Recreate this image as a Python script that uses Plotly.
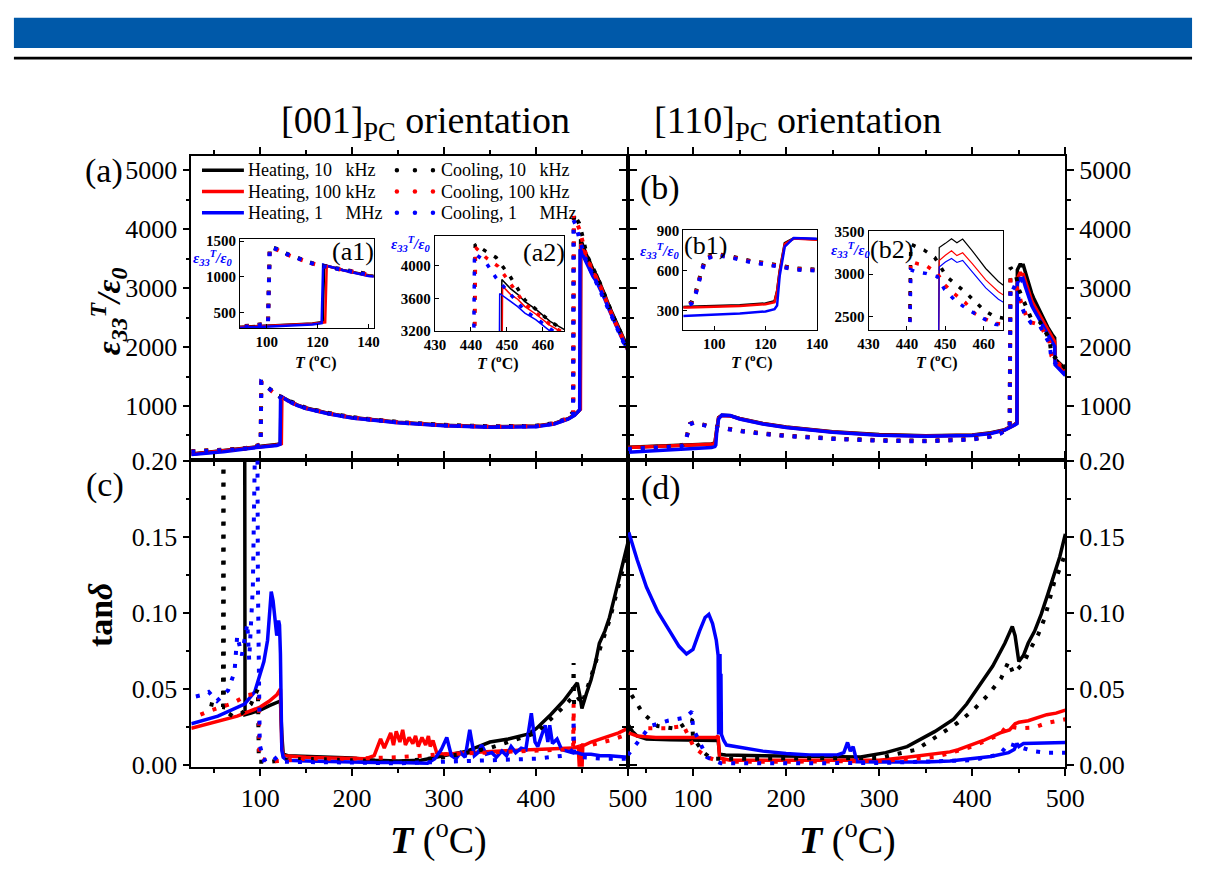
import plotly.graph_objects as go

W, H = 1214, 870
FONT = "Liberation Serif"
BLACK, RED, BLUE = "#000000", "#FF0000", "#0000FF"

# ---------------- DATA (T in degC) ----------------
# panel (a): eps33/eps0, [001]
a_heat_10k = [(25,185),(60,240),(90,300),(100,315),(110,330),(118,345),(122,365),(122.6,1160),(125,1140),(130,1095),(140,1020),(150,965),(175,875),(200,805),(250,725),(300,675),(350,650),(400,660),(420,705),(435,785),(442,850),(446,905),(448.2,950),(448.6,3830),(451,3720),(453,3650),(455,3560),(458,3470),(462,3320),(466,3220),(470,3080),(475,2880),(480,2680),(485,2500),(490,2330),(495,2160),(500,2000)]
a_heat_100k = [(25,180),(60,235),(90,295),(100,310),(110,325),(118,340),(123,362),(123.6,1150),(126,1130),(130,1090),(140,1015),(150,960),(175,870),(200,800),(250,720),(300,670),(350,645),(400,655),(420,700),(435,780),(442,845),(446,900),(448.4,945),(448.8,3750),(451,3650),(453,3590),(455,3500),(458,3410),(462,3270),(466,3170),(470,3040),(475,2850),(480,2650),(485,2470),(490,2300),(495,2130),(500,1975)]
a_heat_1M = [(25,175),(60,225),(90,285),(100,300),(110,315),(118,330),(121.6,350),(122.2,1170),(125,1140),(130,1090),(140,1010),(150,955),(175,865),(200,795),(250,715),(300,665),(350,640),(400,650),(420,695),(435,775),(442,840),(446,895),(447.6,935),(448,3660),(451,3560),(453,3500),(455,3420),(458,3340),(462,3200),(466,3110),(470,2990),(475,2810),(480,2620),(485,2440),(490,2270),(495,2100),(500,1945)]
a_cool_10k = [(25,235),(50,250),(80,275),(95,320),(100.5,350),(101.2,1420),(104,1390),(108,1320),(113,1250),(117,1200),(121,1160),(125,1130),(130,1095),(140,1025),(150,970),(175,880),(200,810),(250,730),(300,680),(350,655),(400,665),(420,710),(435,800),(440.5,900),(441.2,4260),(444,4180),(447,4100),(451,3860),(455,3580),(458,3470),(462,3320),(466,3210),(470,3070),(475,2870),(480,2670),(485,2490),(490,2320),(495,2150),(500,1990)]
a_cool_100k = [(25,230),(50,245),(80,270),(95,315),(100.5,345),(101.2,1400),(104,1380),(108,1310),(113,1240),(117,1195),(121,1155),(125,1125),(130,1090),(140,1020),(150,965),(175,875),(200,805),(250,725),(300,675),(350,650),(400,660),(420,705),(435,795),(440.6,880),(441.3,4220),(444.4,4090),(447.6,3990),(451,3780),(455,3530),(458,3430),(462,3280),(466,3170),(470,3040),(475,2840),(480,2640),(485,2460),(490,2290),(495,2120),(500,1965)]
a_cool_1M = [(25,225),(50,240),(80,265),(95,310),(100.5,340),(101.2,1410),(104,1385),(108,1315),(113,1245),(117,1195),(121,1155),(125,1125),(130,1085),(140,1015),(150,960),(175,870),(200,800),(250,720),(300,670),(350,645),(400,655),(420,700),(435,790),(440.4,870),(441,4150),(444,4050),(447,3850),(451,3650),(455,3450),(458,3360),(462,3220),(466,3100),(470,2980),(475,2790),(480,2600),(485,2420),(490,2250),(495,2090),(500,1935)]

# panel (b): eps33/eps0, [110]
b_heat_10k = [(30,300),(60,318),(90,330),(110,342),(120,355),(123.5,372),(124.5,450),(125.5,600),(127.5,806),(131,842),(140,835),(150,790),(175,705),(200,645),(250,565),(300,515),(350,495),(400,510),(420,545),(435,600),(445,680),(448,720),(448.4,3310),(450,3360),(451.6,3413),(453,3367),(454.5,3410),(457,3273),(460.5,3065),(463.8,2913),(466,2830),(471,2660),(476,2490),(481,2340),(486,2210),(488.5,2156),(489,1800),(494,1720),(500,1630)]
b_heat_100k = [(30,295),(60,313),(90,325),(110,337),(120,350),(123.5,365),(124.5,445),(125.5,590),(127.5,800),(131,840),(140,832),(150,785),(175,700),(200,640),(250,560),(300,510),(350,490),(400,505),(420,540),(435,595),(445,675),(448,715),(448.4,3159),(450,3220),(451.6,3273),(453,3216),(454.5,3250),(457,3121),(460.5,2932),(463.8,2792),(466,2720),(471,2580),(476,2420),(481,2270),(486,2140),(488.5,2090),(489,1750),(494,1670),(500,1580)]
b_heat_1M = [(30,215),(60,240),(90,262),(110,280),(120,295),(123.5,312),(124.5,340),(125.5,560),(127.5,780),(131,845),(140,838),(150,780),(175,695),(200,635),(250,555),(300,505),(350,485),(400,500),(420,535),(435,590),(445,665),(448,700),(448.4,3083),(450,3140),(451.6,3182),(453,3136),(454.5,3160),(457,3026),(460.5,2837),(463.8,2705),(466,2640),(471,2500),(476,2350),(481,2200),(486,2070),(488.5,2010),(489,1700),(494,1610),(500,1518)]
b_cool_10k = [(30,280),(60,300),(88,330),(91.2,365),(92.8,437),(94,531),(95.3,616),(96.8,700),(101,724),(105.5,712),(110,688),(115,669),(119,659),(123.2,645),(127.2,633),(132.3,616),(136.7,611),(150,585),(175,535),(200,500),(250,450),(300,420),(350,410),(400,440),(420,490),(430,540),(438,620),(440.2,680),(441,3350),(444.5,3280),(447.2,3197),(450.3,2970),(452.8,2875),(455.4,2780),(457.9,2667),(460.2,2572),(462.8,2500),(467,2470),(473,2420),(478,2280),(483,2125),(485,1880),(492,1780),(500,1640)]
b_cool_100k = [(30,275),(60,295),(88,325),(91.2,360),(92.8,430),(94,525),(95.3,612),(96.8,695),(101,720),(105.5,708),(110,684),(115,665),(119,655),(123.2,641),(127.2,629),(132.3,612),(136.7,607),(150,580),(175,530),(200,495),(250,445),(300,415),(350,405),(400,435),(420,485),(430,535),(438,615),(440.2,670),(441,3150),(442.8,3121),(444.9,3102),(447.9,3008),(449.8,2875),(452.3,2769),(455.1,2667),(457.7,2534),(460.2,2477),(463,2420),(468,2400),(473,2370),(478,2230),(483,2080),(485,1850),(492,1730),(500,1600)]
b_cool_1M = [(30,270),(60,290),(88,320),(91.2,355),(92.8,425),(94,520),(95.3,605),(96.8,690),(101,715),(105.5,703),(110,680),(115,660),(119,650),(123.2,637),(127.2,625),(132.3,608),(136.7,603),(150,575),(175,525),(200,490),(250,440),(300,410),(350,400),(400,430),(420,480),(430,530),(438,610),(440.2,665),(441,3050),(442.3,3026),(444.9,3008),(447.9,2970),(449.8,2818),(452.6,2686),(455.6,2591),(457.7,2534),(460.2,2470),(463,2410),(468,2380),(473,2350),(478,2200),(483,2060),(485,1800),(492,1680),(500,1540)]

# panel (c): tan(delta), [001]
c_heat_10k = [(83,0.30),(83.5,0.033),(90,0.034),(100,0.036),(110,0.039),(118,0.041),(122,0.042),(123.5,0.020),(125,0.007),(130,0.006),(150,0.0055),(175,0.005),(200,0.0045),(225,0.003),(250,0.0025),(275,0.003),(300,0.006),(325,0.009),(350,0.015),(370,0.017),(390,0.020),(400,0.0236),(416,0.033),(430,0.042),(440,0.050),(445,0.054),(448,0.045),(450,0.037),(455,0.047),(460,0.056),(465,0.068),(469,0.080),(475,0.088),(480,0.097),(487,0.114),(493,0.128),(500,0.146)]
c_heat_100k = [(25,0.024),(50,0.028),(75,0.032),(100,0.038),(110,0.042),(118,0.046),(122,0.050),(122.5,0.035),(123.5,0.012),(125,0.006),(135,0.0055),(150,0.005),(175,0.0045),(200,0.004),(215,0.004),(224,0.006),(228,0.013),(231,0.017),(235,0.011),(238,0.015),(242,0.021),(245,0.013),(248,0.022),(252,0.015),(255,0.023),(258,0.013),(262,0.018),(266,0.014),(269,0.019),(272,0.012),(276,0.018),(280,0.013),(283,0.019),(285,0.012),(288,0.016),(292,0.008),(300,0.007),(325,0.008),(350,0.009),(375,0.0095),(400,0.010),(420,0.0105),(440,0.011),(446,0.012),(448,-0.01),(449,0.012),(450,-0.005),(451,0.013),(453,0.013),(460,0.015),(470,0.017),(480,0.019),(490,0.021),(500,0.024)]
c_heat_1M = [(25,0.027),(54,0.032),(83,0.040),(94,0.048),(100,0.060),(104,0.068),(108,0.082),(110,0.100),(112,0.114),(114,0.108),(116,0.095),(118,0.085),(120,0.095),(121,0.092),(122,0.073),(123,0.030),(123.5,0.0096),(125,0.005),(129,0.003),(150,0.0025),(175,0.002),(200,0.002),(225,0.0015),(250,0.0015),(282,0.001),(290,0.004),(297,0.010),(303,0.018),(308,0.006),(313,0.004),(318,0.008),(323,0.005),(328,0.023),(333,0.006),(337,0.008),(341,0.013),(346,0.007),(352,0.008),(357,0.005),(363,0.009),(368,0.006),(373,0.012),(378,0.008),(384,0.011),(389,0.010),(395,0.034),(399,0.015),(402,0.012),(406,0.020),(410,0.026),(413,0.015),(415,0.026),(418,0.014),(423,0.017),(428,0.010),(435,0.009),(440,0.008),(445,0.008),(450,0.007),(460,0.007),(470,0.006),(480,0.006),(490,0.0055),(500,0.005)]
c_cool_10k = [(45,0.040),(59.5,0.038),(60,0.30),(60.5,0.036),(70,0.032),(80,0.034),(90,0.040),(97.5,0.050),(98.5,0.002),(110,0.002),(125,0.003),(150,0.004),(200,0.003),(250,0.002),(300,0.005),(350,0.011),(400,0.021),(430,0.038),(440.5,0.045),(441,0.067),(441.5,0.040),(445,0.045),(450,0.040),(455,0.050),(460,0.058),(470,0.077),(480,0.095),(490,0.118),(500,0.142)]
c_cool_100k = [(35,0.033),(47,0.036),(68,0.040),(87,0.046),(98.5,0.047),(99,0.005),(109,0.002),(150,0.004),(200,0.004),(250,0.005),(300,0.007),(350,0.008),(400,0.009),(430,0.010),(440.5,0.012),(441,0.040),(441.5,0.012),(460,0.013),(480,0.016),(500,0.020)]
c_cool_1M = [(30,0.045),(37,0.046),(44,0.048),(53,0.042),(65,0.049),(72,0.061),(75,0.085),(80,0.072),(86,0.093),(88,0.069),(92,0.117),(96.5,0.30),(97.5,0.12),(98.3,0.070),(99,0.024),(99.5,0.013),(104,0.003),(114,0.006),(120,0.002),(150,0.002),(200,0.0015),(250,0.001),(300,0.002),(350,0.003),(400,0.004),(430,0.006),(440.5,0.010),(441,0.030),(441.5,0.008),(450,0.005),(475,0.004),(500,0.004)]

# panel (d): tan(delta), [110]
d_heat_10k = [(31,0.026),(35,0.022),(40,0.019),(50,0.017),(75,0.0165),(100,0.0165),(125,0.0165),(127,0.016),(128.5,0.007),(135,0.0064),(175,0.006),(225,0.0055),(280,0.0051),(307,0.008),(330,0.012),(360,0.022),(380,0.030),(394,0.040),(410,0.054),(422,0.065),(435,0.080),(443,0.091),(446,0.085),(450,0.068),(455,0.072),(460,0.080),(467,0.088),(474,0.099),(481,0.112),(488,0.125),(494,0.137),(500,0.152)]
d_heat_100k = [(31,0.021),(40,0.019),(60,0.018),(100,0.018),(125,0.018),(127,0.019),(128.5,0.0045),(140,0.003),(200,0.0028),(250,0.0028),(300,0.003),(330,0.005),(360,0.007),(376,0.0085),(385,0.010),(412,0.016),(430,0.021),(440,0.023),(446,0.027),(450,0.028),(460,0.029),(470,0.031),(480,0.033),(490,0.034),(500,0.036)]
d_heat_1M = [(31,0.153),(40,0.135),(50,0.117),(62,0.101),(75,0.088),(85,0.078),(93,0.073),(100,0.076),(107,0.088),(113,0.097),(117,0.099),(121,0.093),(125,0.082),(127,0.072),(127.5,0.020),(128,0.065),(128.5,0.025),(129,0.073),(129.5,0.030),(130,0.060),(130.5,0.020),(133,0.016),(136,0.013),(150,0.0115),(175,0.009),(200,0.0075),(225,0.0065),(255,0.0065),(262,0.008),(266,0.0147),(269,0.009),(272,0.012),(276,0.002),(300,0.0018),(350,0.0018),(376,0.0025),(400,0.004),(420,0.0055),(439,0.008),(445,0.010),(448,0.014),(450,0.012),(455,0.014),(475,0.0145),(500,0.0147)]
d_cool_10k = [(34,0.046),(46,0.034),(62,0.0255),(83,0.0236),(99,0.030),(100,0.018),(111,0.0083),(120,0.004),(150,0.004),(200,0.004),(250,0.004),(300,0.0045),(340,0.010),(384,0.0275),(401,0.036),(417,0.046),(431,0.057),(439,0.068),(444,0.060),(455,0.067),(464,0.078),(471,0.086),(478,0.097),(483,0.108),(488,0.120),(496,0.132),(500,0.140)]
d_cool_100k = [(52,0.024),(71,0.024),(90,0.0255),(101,0.0115),(115,0.005),(130,0.002),(200,0.002),(300,0.0025),(360,0.005),(400,0.012),(430,0.020),(437,0.0255),(451,0.024),(466,0.0245),(480,0.0275),(500,0.030)]
d_cool_1M = [(30,0.0064),(54,0.0255),(73,0.029),(91,0.031),(99,0.035),(100,0.024),(115,0.005),(130,0.001),(200,0.001),(300,0.0012),(400,0.003),(430,0.007),(439,0.014),(465,0.009),(479,0.008),(500,0.008)]

heat_names = ["Heating, 10\u00a0\u00a0\u00a0kHz", "Heating, 100 kHz", "Heating, 1\u00a0\u00a0\u00a0\u00a0\u00a0MHz"]
cool_names = ["Cooling, 10\u00a0\u00a0\u00a0kHz", "Cooling, 100 kHz", "Cooling, 1\u00a0\u00a0\u00a0\u00a0\u00a0MHz"]
COLORS = [BLACK, RED, BLUE]


def unzip(pairs):
    return [p[0] for p in pairs], [p[1] for p in pairs]


def px(xp):
    return xp / W


def py(yp):
    return 1 - yp / H


fig = go.Figure()

panels = [
    ("x", "y", [a_heat_10k, a_heat_100k, a_heat_1M], [a_cool_10k, a_cool_100k, a_cool_1M], 3.5, 4),
    ("x2", "y2", [b_heat_10k, b_heat_100k, b_heat_1M], [b_cool_10k, b_cool_100k, b_cool_1M], 3.5, 4),
    ("x3", "y3", [c_heat_10k, c_heat_100k, c_heat_1M], [c_cool_10k, c_cool_100k, c_cool_1M], 3.5, 4),
    ("x4", "y4", [d_heat_10k, d_heat_100k, d_heat_1M], [d_cool_10k, d_cool_100k, d_cool_1M], 3.5, 4),
    ("x5", "y5", [a_heat_10k, a_heat_100k, a_heat_1M], [a_cool_10k, a_cool_100k, a_cool_1M], 2.5, 4),
    ("x6", "y6", [a_heat_10k, a_heat_100k, a_heat_1M], [a_cool_10k, a_cool_100k, a_cool_1M], 1.5, 3.5),
    ("x7", "y7", [b_heat_10k, b_heat_100k, b_heat_1M], [b_cool_10k, b_cool_100k, b_cool_1M], 2.5, 4),
    ("x8", "y8", [b_heat_10k, b_heat_100k, b_heat_1M], [b_cool_10k, b_cool_100k, b_cool_1M], 1.2, 3.5),
]

for xr, yr, heats, cools, hw, cw in panels:
    for i, s in enumerate(heats):
        xs, ys = unzip(s)
        fig.add_trace(go.Scatter(x=xs, y=ys, xaxis=xr, yaxis=yr, mode="lines",
                                 line=dict(color=COLORS[i], width=hw),
                                 name=heat_names[i], showlegend=False, hoverinfo="skip"))
    for i, s in enumerate(cools):
        xs, ys = unzip(s)
        fig.add_trace(go.Scatter(x=xs, y=ys, xaxis=xr, yaxis=yr, mode="lines",
                                 line=dict(color=COLORS[i], width=cw, dash="4px,9px"),
                                 name=cool_names[i], showlegend=False, hoverinfo="skip"))

LX = [px(185), px(633)]
RX = [px(633), px(1082)]
TY = [py(461), py(147)]
BY = [py(777), py(461)]

tickfont = dict(family=FONT, size=26, color="black")


def minor(dt):
    return dict(dtick=dt, ticks="outside", ticklen=4, tickwidth=1.5, tickcolor="black")


def main_axis(**kw):
    d = dict(showline=True, linecolor="black", linewidth=1.5, ticks="outside", ticklen=7,
             tickwidth=1.5, tickcolor="black", mirror="ticks", showgrid=False,
             zeroline=False, tickfont=tickfont)
    d.update(kw)
    return d


def inset_axis(**kw):
    d = dict(showline=True, linecolor="black", linewidth=1.2, ticks="inside", ticklen=4,
             tickwidth=1.2, tickcolor="black", mirror=True, showgrid=False, zeroline=False,
             tickfont=dict(family=FONT, size=15, color="black", weight="bold"))
    d.update(kw)
    return d


layout_axes = dict(
    xaxis=main_axis(domain=LX, range=[25, 500], dtick=100, tick0=0, showticklabels=False, anchor="y", minor=minor(50)),
    yaxis=main_axis(domain=TY, range=[80, 5250], dtick=1000, tick0=0, anchor="x", minor=minor(500)),
    xaxis2=main_axis(domain=RX, range=[30, 500], dtick=100, tick0=0, showticklabels=False, anchor="y2", minor=minor(50)),
    yaxis2=main_axis(domain=TY, range=[80, 5250], dtick=1000, tick0=0, anchor="x2", side="right", minor=minor(500)),
    xaxis3=main_axis(domain=LX, range=[25, 500], dtick=100, tick0=0, anchor="y3", minor=minor(50)),
    yaxis3=main_axis(domain=BY, range=[-0.0013, 0.2005], dtick=0.05, tick0=0, tickformat=".2f", anchor="x3", minor=minor(0.025)),
    xaxis4=main_axis(domain=RX, range=[30, 500], dtick=100, tick0=0, anchor="y4", minor=minor(50)),
    yaxis4=main_axis(domain=BY, range=[-0.0013, 0.2005], dtick=0.05, tick0=0, tickformat=".2f", anchor="x4", side="right", minor=minor(0.025)),
    # insets
    xaxis5=inset_axis(domain=[px(235), px(372)], range=[89.5, 142], dtick=20, tick0=0, anchor="y5"),
    yaxis5=inset_axis(domain=[py(325), py(233)], range=[278, 1528], dtick=500, tick0=0, anchor="x5"),
    xaxis6=inset_axis(domain=[px(435), px(568)], range=[430, 466], dtick=10, tick0=0, anchor="y6"),
    yaxis6=inset_axis(domain=[py(328), py(230)], range=[3200, 4360], dtick=400, tick0=0, anchor="x6"),
    xaxis7=inset_axis(domain=[px(690), px(827)], range=[88, 140], dtick=20, tick0=0, anchor="y7"),
    yaxis7=inset_axis(domain=[py(327), py(224)], range=[155, 902], dtick=300, tick0=0, anchor="x7"),
    xaxis8=inset_axis(domain=[px(880), px(1018)], range=[430, 465], dtick=10, tick0=0, anchor="y8"),
    yaxis8=inset_axis(domain=[py(327), py(225)], range=[2340, 3502], dtick=500, tick0=0, anchor="x8"),
)


def ann(text, xp, yp, size, color="black", angle=0, xanchor="center"):
    return dict(text=text, x=px(xp), y=py(yp), xref="paper", yref="paper", showarrow=False,
                xanchor=xanchor, yanchor="middle", textangle=angle,
                font=dict(family=FONT, size=size, color=color))


eps_lbl = "<b><i>ε<sub>33</sub><sup>T</sup>/ε<sub>0</sub></i></b>"
T_main = "<b><i>T</i></b> (<sup>o</sup>C)"
T_inset = "<b><i>T</i> (<sup>o</sup>C)</b>"

annotations = [
    ann("[001]<sub>PC</sub> orientation", 425, 113, 38),
    ann("[110]<sub>PC</sub> orientation", 808, 113, 38),
    ann("(a)", 95, 163, 34), ann("(b)", 666, 180, 34),
    ann("(c)", 96, 487, 34), ann("(d)", 667, 490, 34),
    ann("(a1)", 351, 246, 26), ann("(a2)", 547, 247, 26),
    ann("(b1)", 713, 240, 26), ann("(b2)", 904, 244, 26),
    ann(eps_lbl, 100, 307, 34, angle=-90),
    ann("<b>tan<i>δ</i></b>", 92, 620, 34, angle=-90),
    ann(T_main, 439, 850, 38), ann(T_main, 858, 850, 38),
    ann(eps_lbl, 207, 253, 15, BLUE), ann(eps_lbl, 410, 238, 15, BLUE),
    ann(eps_lbl, 666, 245, 15, BLUE), ann(eps_lbl, 861, 244, 15, BLUE),
    ann(T_inset, 313, 359, 16), ann(T_inset, 500, 360, 16),
    ann(T_inset, 760, 359, 16), ann(T_inset, 950, 359, 16),
]

shapes = [
    dict(type="rect", xref="paper", yref="paper", x0=px(3), x1=px(1212), y0=py(36), y1=py(5),
         fillcolor="#0059A9", line=dict(width=0), layer="below"),
    dict(type="rect", xref="paper", yref="paper", x0=px(3), x1=px(1212), y0=py(48), y1=py(45),
         fillcolor="black", line=dict(width=0), layer="below"),
]

# legend (drawn as glyphs + text in panel (a))
LEG_ROWS = [162, 184, 206]
for i, row in enumerate(LEG_ROWS):
    shapes.append(dict(type="line", xref="paper", yref="paper", x0=px(196), x1=px(239),
                       y0=py(row), y1=py(row), line=dict(color=COLORS[i], width=3.5)))
    for cx in (396, 414.5, 433):
        shapes.append(dict(type="circle", xref="paper", yref="paper",
                           x0=px(cx - 2.3), x1=px(cx + 2.3), y0=py(row + 2.3), y1=py(row - 2.3),
                           fillcolor=COLORS[i], line=dict(width=0)))
    annotations.append(ann(heat_names[i], 241, row, 18, xanchor="left"))
    annotations.append(ann(cool_names[i], 439, row, 18, xanchor="left"))

fig.update_layout(
    width=W, height=H, margin=dict(l=0, r=0, t=0, b=0),
    paper_bgcolor="white", plot_bgcolor="white",
    font=dict(family=FONT, color="black"),
    annotations=annotations, shapes=shapes, showlegend=False,
    **layout_axes,
)

fig.write_html("out.html", config={"displayModeBar": False},
               post_script="document.body.style.margin='0';document.body.style.overflow='hidden';")
